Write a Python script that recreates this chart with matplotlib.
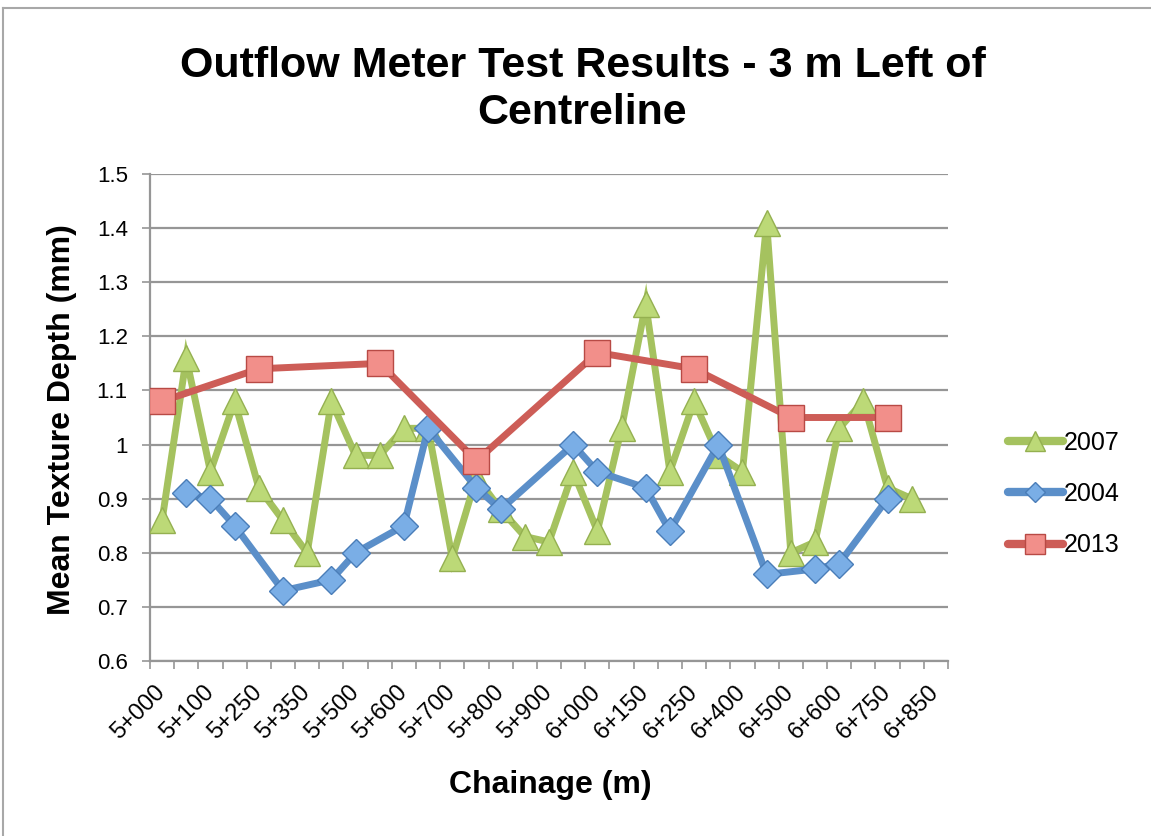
import numpy as np
import matplotlib
matplotlib.use("Agg")
import matplotlib.pyplot as plt
from matplotlib.lines import Line2D

plt.rcParams["font.family"] = ["Liberation Sans", "DejaVu Sans"]

# Chainage categories (only every other one is labelled on the chart)
chainage = ["5+000", "5+050", "5+100", "5+200", "5+250", "5+300", "5+350", "5+450",
            "5+500", "5+550", "5+600", "5+650", "5+700", "5+750", "5+800", "5+850",
            "5+900", "5+950", "6+000", "6+100", "6+150", "6+200", "6+250", "6+350",
            "6+400", "6+450", "6+500", "6+550", "6+600", "6+700", "6+750", "6+800",
            "6+850"]

# Mean texture depth (mm), None = no reading at that chainage
mtd_2007 = [0.86, 1.16, 0.95, 1.08, 0.92, 0.86, 0.80, 1.08, 0.98, 0.98, 1.03, 1.03,
            0.79, 0.94, 0.88, 0.83, 0.82, 0.95, 0.84, 1.03, 1.26, 0.95, 1.08, 0.98,
            0.95, 1.41, 0.80, 0.82, 1.03, 1.08, 0.92, 0.90, None]
mtd_2004 = [None, 0.91, 0.90, 0.85, None, 0.73, None, 0.75, 0.80, None, 0.85, 1.03,
            None, 0.92, 0.88, None, None, 1.00, 0.95, None, 0.92, 0.84, None, 1.00,
            None, 0.76, None, 0.77, 0.78, None, 0.90, None, None]
mtd_2013 = [1.08, None, None, None, 1.14, None, None, None, None, 1.15, None, None,
            None, 0.97, None, None, None, None, 1.17, None, None, None, 1.14, None,
            None, None, 1.05, None, None, None, 1.05, None, None]

series = [
    ("2007", mtd_2007, "#A5C25F", "#BCD977", "#94B050", "^", 19),
    ("2004", mtd_2004, "#5B8FC9", "#7AAEE6", "#4A7DB8", "D", 14),
    ("2013", mtd_2013, "#CD5D57", "#F28F8A", "#B84A45", "s", 19),
]

fig = plt.figure(figsize=(11.51, 8.36), dpi=100)
ax = fig.add_axes([150 / 1151, 1 - 661 / 836, 798 / 1151, 487 / 836])

x_all = np.arange(len(chainage))
handles = []
for name, vals, lc, fc, ec, mk, ms in series:
    xs = [x for x, v in zip(x_all, vals) if v is not None]
    ys = [v for v in vals if v is not None]
    ax.plot(xs, ys, color=lc, lw=5, solid_joinstyle="miter", solid_capstyle="round",
            marker=mk, markersize=ms, markerfacecolor=fc, markeredgecolor=ec,
            markeredgewidth=1, zorder=3)
    handles.append(Line2D([], [], color=lc, lw=6, solid_capstyle="round", marker=mk,
                          markersize=ms * 0.75, markerfacecolor=fc,
                          markeredgecolor=ec, markeredgewidth=1))

ax.set_xlim(-0.5, len(chainage) - 0.5)
ax.set_ylim(0.6, 1.5)
ax.set_yticks(np.arange(0.6, 1.51, 0.1))
ax.set_yticklabels(["0.6", "0.7", "0.8", "0.9", "1", "1.1", "1.2", "1.3", "1.4", "1.5"])
ax.yaxis.grid(True, color="#969696", lw=1.6)
ax.set_axisbelow(True)

ax.set_xticks(x_all[::2])
ax.set_xticklabels(chainage[::2], rotation=45, ha="right", va="center",
                   rotation_mode="anchor")
ax.set_xticks(np.arange(-0.5, len(chainage), 1), minor=True)
ax.tick_params(axis="x", which="major", length=0, pad=20, labelsize=17)
ax.tick_params(axis="x", which="minor", length=6, width=1.2, color="#969696")
ax.tick_params(axis="y", length=6, width=1.2, color="#969696", pad=10, labelsize=16)

for side in ["top", "right"]:
    ax.spines[side].set_visible(False)
for side in ["left", "bottom"]:
    ax.spines[side].set_color("#969696")
    ax.spines[side].set_linewidth(1.6)

fig.text(0.506, 0.893, "Outflow Meter Test Results - 3 m Left of\nCentreline",
         ha="center", va="center", fontsize=31, fontweight="bold", linespacing=1.25)
fig.text(62 / 1151, 1 - 420 / 836, "Mean Texture Depth (mm)", rotation=90,
         ha="center", va="center", fontsize=23, fontweight="bold")
fig.text(550 / 1151, 1 - 785 / 836, "Chainage (m)", ha="center", va="center",
         fontsize=23, fontweight="bold")

fig.legend(handles, [s[0] for s in series], loc="center left",
           bbox_to_anchor=(995 / 1151, 1 - 494 / 836), frameon=False, fontsize=18,
           handlelength=2.2, handletextpad=0.05, labelspacing=1.1, borderpad=0)

# chart frame (top and left edges are visible in the screenshot)
fig.add_artist(Line2D([3 / 1151, 1], [1 - 8 / 836, 1 - 8 / 836], color="#A8A8A8", lw=1.5))
fig.add_artist(Line2D([3 / 1151, 3 / 1151], [0, 1 - 8 / 836], color="#A8A8A8", lw=1.5))

fig.savefig("out.png", dpi=100, facecolor="white")
